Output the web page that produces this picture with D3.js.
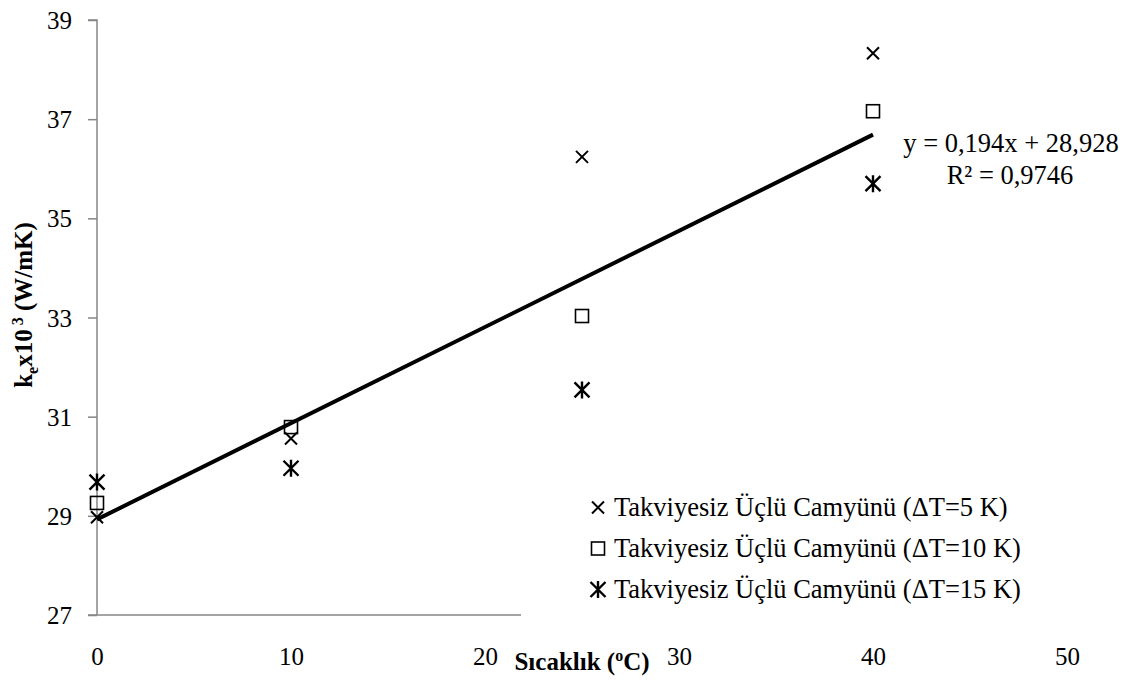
<!DOCTYPE html>
<html>
<head>
<meta charset="utf-8">
<script src="https://cdn.jsdelivr.net/npm/d3@7"></script>
<style>
  body { margin: 0; background: #fff; }
</style>
</head>
<body>
<svg id="chart" width="1134" height="696"></svg>
<script>
// Thermal conductivity vs. temperature, three temperature differences
const temps = [0, 10, 25, 40];
const dT5 = [28.97, 30.56, 36.24, 38.33];
const dT10 = [29.26, 30.79, 33.03, 37.16];
const dT15 = [29.68, 29.96, 31.54, 35.70];
const seriesNames = [
  "Takviyesiz Üçlü Camyünü (ΔT=5 K)",
  "Takviyesiz Üçlü Camyünü (ΔT=10 K)",
  "Takviyesiz Üçlü Camyünü (ΔT=15 K)"
];
const seriesMarkers = ["cross", "square", "star"];
const xTicks = [0, 10, 20, 30, 40, 50];
const yTicks = [27, 29, 31, 33, 35, 37, 39];
const trendSlope = 0.194;
const trendIntercept = 28.928;
const trendLabel = "y = 0,194x + 28,928";
const r2Label = "R² = 0,9746";

const FONT = '"Liberation Serif", Tinos, "Times New Roman", Times, serif';
const svg = d3.select("#chart");
const x = d3.scaleLinear().domain([0, 50]).range([97, 1067]);
const y = d3.scaleLinear().domain([27, 39]).range([615, 20]);
const axisColor = "#868686";

// Y axis
const yAxis = svg.append("g").attr("transform", `translate(${x(0)},0)`)
  .call(d3.axisLeft(y).tickValues(yTicks).tickSize(9).tickPadding(16).tickFormat(d3.format("d")));
yAxis.select(".domain").attr("stroke", axisColor).attr("stroke-width", 1.5).attr("d", `M-9,${y(39)}H0V${y(27)}`);
yAxis.selectAll(".tick line").attr("stroke", axisColor).attr("stroke-width", 1.5);
yAxis.selectAll(".tick text").style("font-family", FONT).style("font-size", "25px")
  .attr("fill", "#000").attr("dy", "0.34em");

// X axis
const xAxis = svg.append("g").attr("transform", `translate(0,${y(27)})`)
  .call(d3.axisBottom(x).tickValues(xTicks).tickSize(0).tickPadding(32).tickFormat(d3.format("d")));
xAxis.select(".domain").attr("stroke", axisColor).attr("stroke-width", 1.5).attr("d", `M${x(0) - 9},0H${x(50)}`);
xAxis.selectAll(".tick text").style("font-family", FONT).style("font-size", "25px").attr("fill", "#000");

// Axis titles
const xt = svg.append("text")
  .attr("x", 582).attr("y", 670)
  .attr("text-anchor", "middle")
  .style("font-family", FONT).style("font-size", "25px").style("font-weight", "bold");
xt.append("tspan").text("Sıcaklık (");
xt.append("tspan").style("font-size", "16px").attr("dy", -9).text("o");
xt.append("tspan").attr("dy", 9).text("C)");

const yt = svg.append("text")
  .attr("transform", "translate(32,305) rotate(-90)")
  .attr("text-anchor", "middle")
  .style("font-family", FONT).style("font-size", "25px").style("font-weight", "bold");
yt.append("tspan").text("k");
yt.append("tspan").style("font-size", "16px").attr("dy", 6).text("e");
yt.append("tspan").attr("dy", -6).text("x10");
yt.append("tspan").style("font-size", "16px").attr("dy", -9).text(" 3");
yt.append("tspan").attr("dy", 9).text(" (W/mK)");

// Marker shapes
function drawMarker(g, type, cx, cy) {
  if (type === "cross") {
    const s = 6;
    g.append("path").attr("d", `M${cx - s},${cy - s}L${cx + s},${cy + s}M${cx - s},${cy + s}L${cx + s},${cy - s}`)
      .attr("stroke", "#000").attr("stroke-width", 2).attr("fill", "none");
  } else if (type === "square") {
    const s = 6.5;
    g.append("rect").attr("x", cx - s).attr("y", cy - s).attr("width", 2 * s).attr("height", 2 * s)
      .attr("stroke", "#000").attr("stroke-width", 1.6).attr("fill", "none");
  } else {
    const s = 7.5;
    g.append("path").attr("d", `M${cx - s},${cy - s}L${cx + s},${cy + s}M${cx - s},${cy + s}L${cx + s},${cy - s}M${cx},${cy - s - 1}L${cx},${cy + s + 1}`)
      .attr("stroke", "#000").attr("stroke-width", 2.4).attr("fill", "none");
  }
}

// Trend line
svg.append("line")
  .attr("x1", x(0)).attr("y1", y(trendIntercept))
  .attr("x2", x(40)).attr("y2", y(trendIntercept + trendSlope * 40))
  .attr("stroke", "#000").attr("stroke-width", 4);

// Data points
const allSeries = [dT5, dT10, dT15];
const pts = svg.append("g");
allSeries.forEach((vals, i) => {
  vals.forEach((v, j) => drawMarker(pts, seriesMarkers[i], x(temps[j]), y(v)));
});

// Trend equation
svg.append("text").attr("x", 1011).attr("y", 152).attr("text-anchor", "middle")
  .style("font-family", FONT).style("font-size", "26.5px").text(trendLabel);
svg.append("text").attr("x", 1010).attr("y", 184).attr("text-anchor", "middle")
  .style("font-family", FONT).style("font-size", "26.5px").text(r2Label);

// Legend (its white box sits over the right part of the x axis line)
const legend = svg.append("g");
legend.append("rect").attr("x", 521).attr("y", 486).attr("width", 560).attr("height", 134).attr("fill", "#fff");
seriesNames.forEach((name, i) => {
  const ly = 507.5 + i * 41;
  drawMarker(legend, seriesMarkers[i], 598, ly);
  legend.append("text").attr("x", 614).attr("y", ly + 8.5)
    .style("font-family", FONT).style("font-size", "26.5px").text(name);
});
</script>
</body>
</html>
